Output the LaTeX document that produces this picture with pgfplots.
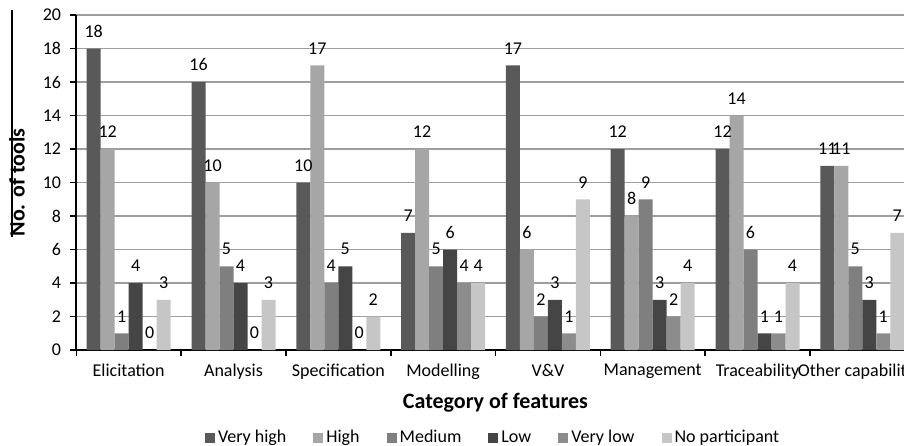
\documentclass[border=0pt]{standalone}
\usepackage{pgfplots}
\pgfplotsset{compat=1.18}
\usepackage{fontspec}
\setmainfont{Carlito}
\definecolor{cVH}{HTML}{595959}
\definecolor{cH}{HTML}{A6A6A6}
\definecolor{cM}{HTML}{7F7F7F}
\definecolor{cL}{HTML}{454545}
\definecolor{cVL}{HTML}{8C8C8C}
\definecolor{cNP}{HTML}{C6C6C6}
\newcommand{\fs}{\fontsize{18}{21}\selectfont}
\newcommand{\fb}{\fontsize{22}{26}\selectfont\bfseries}
\begin{document}
\begin{tikzpicture}[x=1pt,y=1pt]
\path[use as bounding box, clip] (0,0) rectangle (904,445);
\draw[line width=1.2pt] (12,435) -- (12,208);
\begin{axis}[
  at={(76.3pt,95pt)}, anchor=south west,
  scale only axis, width=838.4pt, height=335pt,
  xmin=0, xmax=8, ymin=0, ymax=20,
  ybar=0pt, bar width=14pt,
  /pgf/number format/assume math mode=true,
  axis x line*=bottom, axis y line*=left,
  axis line style={line width=1.8pt, black},
  ytick={0,2,...,20},
  ymajorgrids, grid style={line width=1.8pt, color=black!38},
  xtick={0,...,8},
  xticklabels={Elicitation, Analysis, Specification, Modelling, V\&V, Management, Traceability, Other capabilities},
  x tick label as interval,
  tick align=outside, major tick length=6pt,
  tick style={line width=1.6pt, black},
  ticklabel style={font=\fs},
  yticklabel style={inner sep=0pt, xshift=-9pt},
  xticklabel style={inner sep=0pt, yshift=-8pt},
  nodes near coords,
  every node near coord/.append style={font=\fs, black, inner sep=2pt, yshift=9pt},
  xlabel={Category of features},
  xlabel style={font=\fb, at={(axis description cs:0.5,-0.158)}, anchor=center},
  ylabel={No. of tools},
  ylabel style={font=\fb, at={(axis description cs:-0.0708,0.5)}, anchor=center},
  legend columns=6,
  legend style={at={(axis description cs:0.496,-0.264)}, anchor=center, draw=none, fill=none, font=\fs,
    nodes={inner sep=0pt, text height=13pt, text depth=4pt},
    /tikz/every even column/.append style={column sep=27pt},
    /tikz/every odd column/.append style={column sep=3pt}},
  legend image code/.code={\fill[#1, draw=none] (0pt,-5pt) rectangle (10pt,5pt);},
]
\addplot[fill=cVH, draw=none] coordinates {(0.5,18) (1.5,16) (2.5,10) (3.5,7) (4.5,17) (5.5,12) (6.5,12) (7.5,11)};
\addplot[fill=cH, draw=none] coordinates {(0.5,12) (1.5,10) (2.5,17) (3.5,12) (4.5,6) (5.5,8) (6.5,14) (7.5,11)};
\addplot[fill=cM, draw=none] coordinates {(0.5,1) (1.5,5) (2.5,4) (3.5,5) (4.5,2) (5.5,9) (6.5,6) (7.5,5)};
\addplot[fill=cL, draw=none] coordinates {(0.5,4) (1.5,4) (2.5,5) (3.5,6) (4.5,3) (5.5,3) (6.5,1) (7.5,3)};
\addplot[fill=cVL, draw=none] coordinates {(0.5,0) (1.5,0) (2.5,0) (3.5,4) (4.5,1) (5.5,2) (6.5,1) (7.5,1)};
\addplot[fill=cNP, draw=none] coordinates {(0.5,3) (1.5,3) (2.5,2) (3.5,4) (4.5,9) (5.5,4) (6.5,4) (7.5,7)};
\legend{Very high, High, Medium, Low, Very low, No participant}
\end{axis}
\end{tikzpicture}
\end{document}
